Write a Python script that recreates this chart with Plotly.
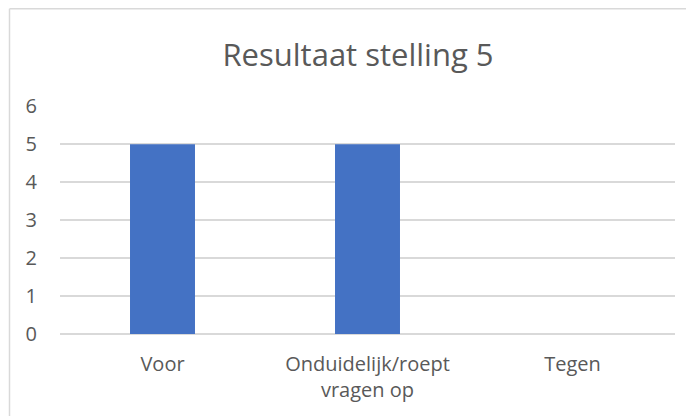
import plotly.graph_objects as go

categories = ["Voor", "Onduidelijk/roept<br>vragen op", "Tegen"]
values = [5, 5, 0]
y_ticks = [0, 1, 2, 3, 4, 5, 6]
title_text = "Resultaat stelling 5"

# The browser page has an 8px body margin, so the figure is sized to fit the rest.
OFF = 8
W, H = 694 - OFF, 416 - OFF
L = 60 - OFF
R = 694 - 675
T = 106 - OFF
B = 416 - 334

fig = go.Figure()
fig.add_trace(go.Bar(
    x=categories, y=values,
    marker=dict(color="#4472C4", line=dict(width=0)),
    width=0.317,
))

font_family = "Open Sans, Lato, Liberation Sans, sans-serif"
gray = "#595959"

fig.update_layout(
    width=W, height=H,
    margin=dict(l=L, r=R, t=T, b=B, pad=0),
    paper_bgcolor="white", plot_bgcolor="white",
    showlegend=False,
    title=dict(text=title_text, x=(358 - OFF) / W, xanchor="center",
               y=1 - (55 - OFF) / H, yanchor="middle", yref="container",
               font=dict(family=font_family, size=31, color=gray)),
    xaxis=dict(showgrid=False, showline=False, zeroline=False,
               ticks="", tickfont=dict(family=font_family, size=20, color=gray),
               ticklabelstandoff=16, range=[-0.5, 2.5]),
    yaxis=dict(range=[0, 6.01], tickvals=y_ticks, showgrid=True,
               gridcolor="#d9d9d9", gridwidth=1.5, zeroline=True,
               zerolinecolor="#d9d9d9", zerolinewidth=1.5, showline=False,
               ticks="", tickfont=dict(family=font_family, size=20, color=gray),
               ticklabelstandoff=22),
    bargap=0.68,
)

def px_x(px):
    return (px - OFF - L) / (W - L - R)

def px_y(py):
    return (H - B - (py - OFF)) / (H - T - B)

fig.add_shape(type="line", xref="paper", yref="paper",
              x0=px_x(9.5), x1=px_x(700), y0=px_y(8.7), y1=px_y(8.7),
              line=dict(color="#d9d9d9", width=1.5))
fig.add_shape(type="line", xref="paper", yref="paper",
              x0=px_x(9.5), x1=px_x(9.5), y0=px_y(8.7), y1=px_y(420),
              line=dict(color="#d9d9d9", width=1.5))

fig.write_html("out.html")
